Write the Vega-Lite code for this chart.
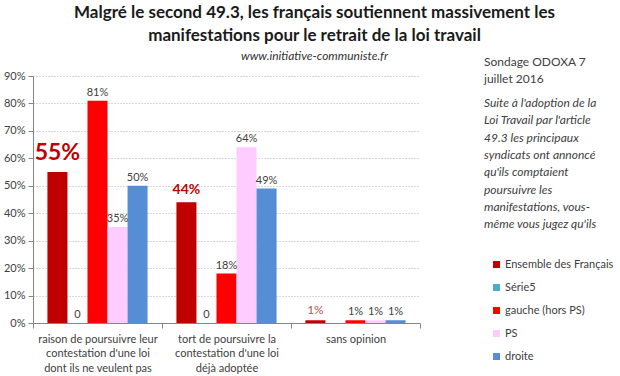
{
  "$schema": "https://vega.github.io/schema/vega-lite/v6.json",
  "width": 387,
  "height": 247,
  "autosize": {"type": "none"},
  "padding": {"left": 33, "top": 76, "right": 200, "bottom": 53},
  "background": "white",
  "config": {"font": "Lato", "view": {"stroke": null}},
  "title": {
    "text": ["Malgré le second 49.3, les français soutiennent massivement les", "manifestations pour le retrait de la loi  travail"],
    "subtitle": "www.initiative-communiste.fr",
    "anchor": "middle",
    "dx": 88,
    "offset": -7,
    "font": "Lato",
    "fontSize": 17,
    "fontWeight": "bold",
    "color": "#1a1a1a",
    "lineHeight": 23,
    "subtitleFont": "Lato",
    "subtitleFontStyle": "italic",
    "subtitleFontSize": 12,
    "subtitleColor": "#333333",
    "subtitlePadding": 6
  },
  "datasets": {
    "survey": [
      {"cat": "raison de poursuivre leur contestation d'une loi dont ils ne veulent pas", "series": "Ensemble des Français", "value": 0.55},
      {"cat": "raison de poursuivre leur contestation d'une loi dont ils ne veulent pas", "series": "Série5", "value": 0},
      {"cat": "raison de poursuivre leur contestation d'une loi dont ils ne veulent pas", "series": "gauche (hors PS)", "value": 0.81},
      {"cat": "raison de poursuivre leur contestation d'une loi dont ils ne veulent pas", "series": "PS", "value": 0.35},
      {"cat": "raison de poursuivre leur contestation d'une loi dont ils ne veulent pas", "series": "droite", "value": 0.50},
      {"cat": "tort de poursuivre la contestation d'une loi déjà adoptée", "series": "Ensemble des Français", "value": 0.44},
      {"cat": "tort de poursuivre la contestation d'une loi déjà adoptée", "series": "Série5", "value": 0},
      {"cat": "tort de poursuivre la contestation d'une loi déjà adoptée", "series": "gauche (hors PS)", "value": 0.18},
      {"cat": "tort de poursuivre la contestation d'une loi déjà adoptée", "series": "PS", "value": 0.64},
      {"cat": "tort de poursuivre la contestation d'une loi déjà adoptée", "series": "droite", "value": 0.49},
      {"cat": "sans opinion", "series": "Ensemble des Français", "value": 0.01},
      {"cat": "sans opinion", "series": "gauche (hors PS)", "value": 0.01},
      {"cat": "sans opinion", "series": "PS", "value": 0.01},
      {"cat": "sans opinion", "series": "droite", "value": 0.01}
    ],
    "notes": [{"k": 1}]
  },
  "layer": [
    {
      "data": {"name": "survey"},
      "encoding": {
        "x": {
          "field": "cat", "type": "nominal", "sort": null,
          "scale": {"paddingInner": 0, "paddingOuter": 0},
          "axis": {
            "title": null, "labelAngle": 0, "tickBand": "extent", "tickSize": 5,
            "domainColor": "#868686", "tickColor": "#868686",
            "labelFont": "Lato", "labelFontSize": 11, "labelColor": "#404040",
            "labelLineHeight": 14.5, "labelPadding": 5, "labelLimit": 0,
            "labelExpr": "datum.label == 'sans opinion' ? 'sans opinion' : (indexof(datum.label + '', 'raison') == 0 ? ['raison de poursuivre leur', \"contestation d'une loi\", 'dont ils ne veulent pas'] : (indexof(datum.label + '', 'tort') == 0 ? ['tort de poursuivre la', \"contestation d'une loi\", 'déjà adoptée'] : ''))"
          }
        },
        "xOffset": {
          "field": "series", "type": "nominal",
          "scale": {"domain": ["Ensemble des Français", "Série5", "gauche (hors PS)", "PS", "droite"], "paddingInner": 0, "paddingOuter": 0.72}
        },
        "y": {
          "field": "value", "type": "quantitative",
          "scale": {"domain": [0, 0.9], "nice": false},
          "axis": {
            "title": null, "values": [0, 0.1, 0.2, 0.3, 0.4, 0.5, 0.6, 0.7, 0.8, 0.9], "format": ".0%",
            "grid": true, "gridDash": [1, 2], "gridColor": "#b0b0b0",
            "domainColor": "#868686", "tickColor": "#868686", "tickSize": 5,
            "labelFont": "Lato", "labelFontSize": 11, "labelColor": "#404040", "labelPadding": 3
          }
        }
      },
      "layer": [
        {
          "mark": {"type": "bar"},
          "encoding": {
            "color": {
              "field": "series", "type": "nominal",
              "scale": {
                "domain": ["Ensemble des Français", "Série5", "gauche (hors PS)", "PS", "droite"],
                "range": ["#C00000", "#4BACC6", "#FF0000", "#FFCCFF", "#558ED5"]
              },
              "legend": {
                "title": null, "orient": "none", "legendX": 458, "legendY": 183,
                "symbolType": "square", "symbolSize": 49, "symbolStrokeWidth": 0, "symbolOpacity": 1,
                "labelFont": "Lato", "labelFontSize": 11, "labelColor": "#404040", "labelOffset": 3,
                "rowPadding": 11, "padding": 0
              }
            }
          }
        },
        {
          "transform": [{"filter": "datum.series !== 'Ensemble des Français' || datum.cat === 'sans opinion'"}],
          "mark": {"type": "text", "baseline": "bottom", "dy": -3, "fontSize": 11, "font": "Lato"},
          "encoding": {
            "text": {"condition": {"test": "datum.series === 'Série5'", "value": "0"}, "field": "value", "type": "quantitative", "format": ".0%"},
            "color": {"condition": {"test": "datum.series === 'Ensemble des Français'", "value": "#C0504D"}, "value": "#404040"},
            "size": {"condition": {"test": "datum.series === 'Ensemble des Français'", "value": 12}, "value": 11}
          }
        },
        {
          "transform": [{"filter": "datum.series === 'Ensemble des Français' && indexof(datum.cat, 'raison') == 0"}],
          "mark": {"type": "text", "baseline": "bottom", "dy": -7, "fontSize": 23, "fontWeight": "bold", "color": "#C00000", "font": "Lato"},
          "encoding": {"text": {"field": "value", "type": "quantitative", "format": ".0%"}}
        },
        {
          "transform": [{"filter": "datum.series === 'Ensemble des Français' && indexof(datum.cat, 'tort') == 0"}],
          "mark": {"type": "text", "baseline": "bottom", "dy": -5, "fontSize": 14, "fontWeight": "bold", "color": "#C00000", "font": "Lato"},
          "encoding": {"text": {"field": "value", "type": "quantitative", "format": ".0%"}}
        }
      ]
    },
    {
      "data": {"name": "notes"},
      "mark": {
        "type": "text", "align": "left", "baseline": "alphabetic", "x": 451, "y": -10,
        "font": "Lato", "fontSize": 12, "color": "#404040", "lineHeight": 17,
        "text": ["Sondage ODOXA 7", "juillet 2016"]
      },
      "encoding": {}
    },
    {
      "data": {"name": "notes"},
      "mark": {
        "type": "text", "align": "left", "baseline": "alphabetic", "x": 451, "y": 31,
        "font": "Lato", "fontSize": 12, "fontStyle": "italic", "color": "#404040", "lineHeight": 17.3,
        "text": ["Suite à l'adoption de la", "Loi Travail par l'article", "49.3 les principaux", "syndicats ont annoncé", "qu'ils comptaient", "poursuivre les", "manifestations, vous-", "même vous jugez qu'ils"]
      },
      "encoding": {}
    }
  ]
}
